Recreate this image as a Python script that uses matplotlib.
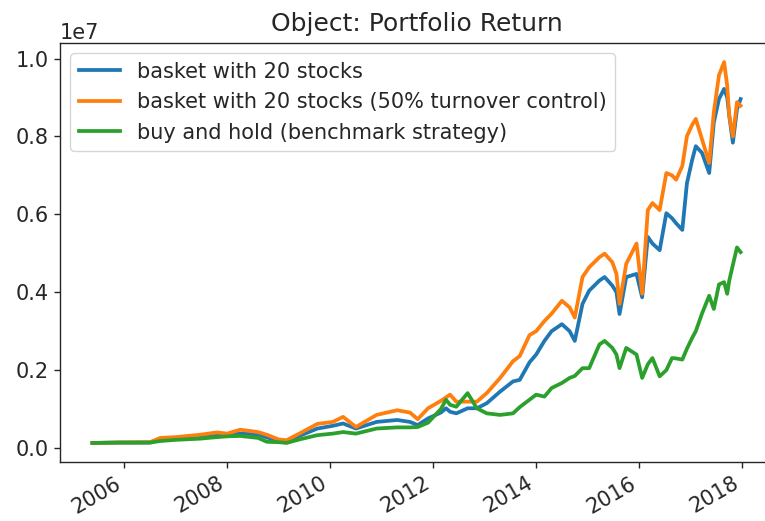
import matplotlib
matplotlib.use("Agg")
import matplotlib.pyplot as plt
import matplotlib.dates as mdates
import pandas as pd
import numpy as np

# decimal-year sample dates
years = [2005.38, 2005.9, 2006.5, 2006.7, 2007.0, 2007.47, 2007.8, 2008.0, 2008.25,
         2008.6, 2008.77, 2009.0, 2009.15, 2009.4, 2009.75, 2010.05, 2010.25, 2010.5,
         2010.9, 2011.3, 2011.55, 2011.7, 2011.9, 2012.15, 2012.25, 2012.33, 2012.45,
         2012.67, 2012.85, 2013.04, 2013.3, 2013.55, 2013.68, 2013.87, 2014.0, 2014.16,
         2014.3, 2014.5, 2014.65, 2014.75, 2014.9, 2015.03, 2015.23, 2015.33, 2015.48,
         2015.56, 2015.62, 2015.75, 2015.95, 2016.06, 2016.17, 2016.26, 2016.4, 2016.53,
         2016.64, 2016.72, 2016.84, 2016.93, 2017.03, 2017.1, 2017.22, 2017.36, 2017.45,
         2017.55, 2017.65, 2017.71, 2017.75, 2017.82, 2017.9, 2017.97]

# values in units of 1e7
basket20 = [0.013, 0.014, 0.014, 0.022, 0.025, 0.030, 0.035, 0.033, 0.037,
            0.035, 0.027, 0.019, 0.018, 0.031, 0.050, 0.057, 0.063, 0.050,
            0.067, 0.072, 0.067, 0.059, 0.076, 0.091, 0.102, 0.093, 0.089,
            0.102, 0.102, 0.115, 0.145, 0.171, 0.175, 0.220, 0.240, 0.275,
            0.300, 0.318, 0.300, 0.275, 0.370, 0.404, 0.430, 0.439, 0.417,
            0.400, 0.344, 0.439, 0.447, 0.387, 0.542, 0.525, 0.508, 0.603,
            0.590, 0.577, 0.560, 0.680, 0.740, 0.775, 0.758, 0.706, 0.836,
            0.896, 0.922, 0.900, 0.853, 0.784, 0.870, 0.896]

basket20_turnover = [0.013, 0.014, 0.015, 0.026, 0.028, 0.034, 0.040, 0.037, 0.047,
                     0.041, 0.034, 0.022, 0.020, 0.037, 0.062, 0.067, 0.080, 0.054,
                     0.085, 0.097, 0.091, 0.074, 0.102, 0.121, 0.130, 0.137, 0.119,
                     0.119, 0.119, 0.141, 0.180, 0.223, 0.236, 0.290, 0.300, 0.326,
                     0.345, 0.378, 0.361, 0.335, 0.439, 0.464, 0.490, 0.499, 0.477,
                     0.447, 0.370, 0.473, 0.525, 0.396, 0.611, 0.629, 0.611, 0.706,
                     0.700, 0.689, 0.724, 0.801, 0.830, 0.845, 0.793, 0.732, 0.862,
                     0.957, 0.991, 0.930, 0.853, 0.800, 0.888, 0.879]

buy_hold = [0.013, 0.014, 0.014, 0.018, 0.021, 0.024, 0.028, 0.030, 0.031,
            0.026, 0.016, 0.015, 0.013, 0.022, 0.033, 0.037, 0.041, 0.037,
            0.050, 0.053, 0.053, 0.054, 0.065, 0.100, 0.124, 0.111, 0.106,
            0.141, 0.102, 0.089, 0.085, 0.089, 0.105, 0.124, 0.137, 0.132,
            0.154, 0.167, 0.180, 0.185, 0.205, 0.205, 0.266, 0.275, 0.257,
            0.240, 0.205, 0.257, 0.240, 0.180, 0.215, 0.231, 0.184, 0.200,
            0.231, 0.230, 0.227, 0.255, 0.283, 0.300, 0.345, 0.391, 0.357,
            0.420, 0.426, 0.396, 0.430, 0.470, 0.515, 0.503]

labels = ["basket with 20 stocks",
          "basket with 20 stocks (50% turnover control)",
          "buy and hold (benchmark strategy)"]


def to_dates(ys):
    out = []
    for y in ys:
        yr = int(np.floor(y))
        start = pd.Timestamp(year=yr, month=1, day=1)
        out.append(start + pd.Timedelta(days=(y - yr) * 365.25))
    return pd.DatetimeIndex(out)


dates = to_dates(years)
scale = 1e7
txt = "#262626"

fig = plt.figure(figsize=(7.65, 5.21), dpi=100)
ax = fig.add_axes([60 / 765, (521 - 462) / 521, (773 - 60) / 765, (462 - 43) / 521])

for vals, lab in zip([basket20, basket20_turnover, buy_hold], labels):
    ax.plot(dates, np.array(vals) * scale, label=lab, lw=2.7)

ax.xaxis.set_major_locator(mdates.YearLocator(2))
ax.xaxis.set_major_formatter(mdates.DateFormatter("%Y"))
for lbl in ax.get_xticklabels():
    lbl.set_rotation(30)
    lbl.set_ha("right")

ax.tick_params(labelsize=15, length=4.5, width=1.0, colors=txt)
for s in ax.spines.values():
    s.set_linewidth(1.0)
    s.set_color(txt)
ax.spines["right"].set_visible(False)
ax.yaxis.get_offset_text().set_fontsize(15)
ax.yaxis.get_offset_text().set_color(txt)
ax.set_title("Object: Portfolio Return", fontsize=18, pad=9, color=txt)
leg = ax.legend(loc="upper left", fontsize=15)
for t in leg.get_texts():
    t.set_color(txt)
for h in leg.get_lines():
    h.set_linewidth(2.7)

fig.savefig("out.png", dpi=100)
